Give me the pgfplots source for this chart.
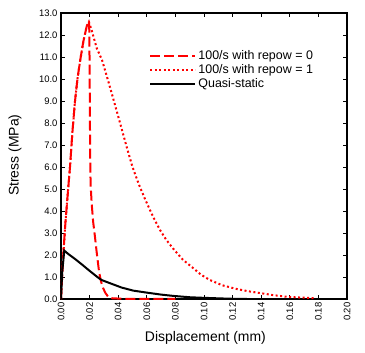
\documentclass[border=0pt]{standalone}
\usepackage{fontspec}
\setmainfont{Liberation Sans}
\usepackage{pgfplots}
\pgfplotsset{compat=1.18}
\begin{document}
\begin{tikzpicture}
\begin{axis}[
  scale only axis, width=286bp, height=286bp,
  xmin=0, xmax=0.2, ymin=0, ymax=13,
  xtick={0,0.02,...,0.2001}, ytick={0,1,...,13},
  axis line style={line width=1.6bp},
  major tick style={line width=0.8bp, black},
  major tick length=4bp, tick align=inside,
  /pgf/number format/assume math mode=true,
  tick label style={font=\fontsize{9.5}{11}\selectfont},
  xticklabel style={rotate=90, anchor=east, /pgf/number format/fixed, /pgf/number format/precision=2, /pgf/number format/fixed zerofill},
  yticklabel style={/pgf/number format/fixed, /pgf/number format/precision=1, /pgf/number format/fixed zerofill},
  scaled x ticks=false,
  xlabel={Displacement (mm)}, ylabel={Stress (MPa)},
  label style={font=\fontsize{14}{16}\selectfont},
  xlabel style={at={(axis description cs:0.505,-0.136)}, anchor=center},
  ylabel style={at={(axis description cs:-0.161,0.503)}, anchor=center},
  legend style={draw=none, fill=none, at={(0.298,0.882)}, anchor=north west, font=\fontsize{12.5}{14}\selectfont, row sep=-0.5bp},
  legend cell align=left,
  legend image code/.code={\draw[#1] (0bp,0bp) -- (45bp,0bp);},
]
\addplot[red, line width=2bp, dash pattern=on 10bp off 4bp] coordinates {
(0,0) (0.0016,2.0) (0.003,3.4) (0.005,5.0) (0.0063,6.0) (0.008,7.6) (0.0098,9.0) (0.0115,10.0) (0.0133,10.8) (0.0156,11.7) (0.018,12.4) (0.0195,12.6)
(0.0198,12.2) (0.0200,10.5) (0.0202,8.5) (0.0204,6.5) (0.0207,5.2) (0.0215,4.3) (0.0225,3.5) (0.0238,2.8) (0.025,2.1) (0.0266,1.25) (0.0278,0.85) (0.029,0.56) (0.031,0.28) (0.033,0.1) (0.036,0.03) (0.045,0.01) (0.08,0.0)
};
\addlegendentry{100/s with repow = 0}
\addplot[red, line width=2bp, dash pattern=on 2bp off 2.5bp] coordinates {
(0,0) (0.0016,2.0) (0.003,3.4) (0.005,5.0) (0.0063,6.0) (0.008,7.6) (0.0098,9.0) (0.0115,10.0) (0.0133,10.8) (0.0156,11.7) (0.018,12.4) (0.0195,12.6)
(0.0215,12.2) (0.025,11.4) (0.0287,10.86) (0.0335,9.8) (0.0385,8.65) (0.043,7.6) (0.0462,6.85) (0.050,6.0) (0.0545,5.2) (0.0587,4.55) (0.0643,3.75) (0.0692,3.14) (0.0735,2.7) (0.0783,2.3) (0.085,1.8) (0.0923,1.41) (0.098,1.1) (0.1042,0.86) (0.113,0.62) (0.1231,0.45) (0.1312,0.35) (0.1392,0.27) (0.148,0.18) (0.158,0.1) (0.166,0.07) (0.174,0.05) (0.178,0.03)
};
\addlegendentry{100/s with repow = 1}
\addplot[black, line width=2bp] coordinates {
(0,0) (0.0008,1.2) (0.0023,2.2) (0.005,2.05) (0.0098,1.82) (0.015,1.55) (0.020,1.28) (0.026,0.97) (0.0285,0.86) (0.035,0.7) (0.0424,0.52) (0.0506,0.38) (0.06,0.29) (0.07,0.2) (0.0786,0.14) (0.09,0.08) (0.097,0.06) (0.11,0.03) (0.12,0.01) (0.13,0.0)
};
\addlegendentry{Quasi-static}
\coordinate (ll) at (rel axis cs:0,0);
\coordinate (ur) at (rel axis cs:1,1);
\end{axis}
\pgfresetboundingbox
\path ([shift={(-61bp,-54bp)}]ll) rectangle ([shift={(18bp,13bp)}]ur);
\end{tikzpicture}
\end{document}
